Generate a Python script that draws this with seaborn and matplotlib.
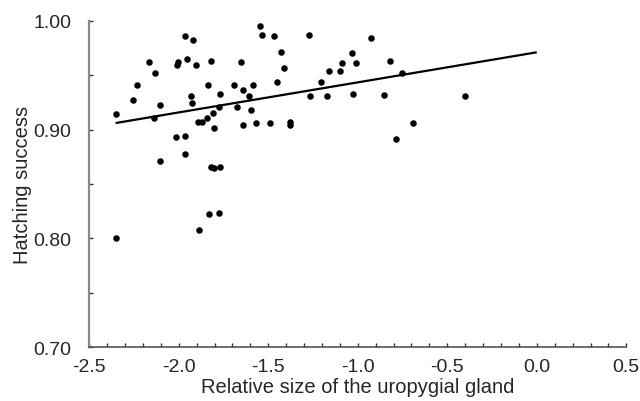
#!/usr/bin/env python3
"""
Hatching success vs relative uropygial gland size
"""

import numpy as np
import pandas as pd
import matplotlib
matplotlib.use("Agg")
import matplotlib.pyplot as plt
from matplotlib.ticker import MultipleLocator, FormatStrFormatter
import seaborn as sns

# values
gland_size = [
    -2.353, -2.353, -2.254, -2.234, -2.165, -2.135, -2.136, -2.105, -2.105, -2.016,
    -2.008, -2.003, -1.964, -1.964, -1.964, -1.953, -1.933, -1.928, -1.918, -1.904,
    -1.890, -1.872, -1.840, -1.834, -1.822, -1.809, -1.806, -1.821, -1.801, -1.770,
    -1.770, -1.774, -1.692, -1.677, -1.653, -1.641, -1.639, -1.607, -1.594, -1.584,
    -1.567, -1.544, -1.534, -1.489, -1.469, -1.449, -1.431, -1.414, -1.381, -1.380,
    -1.271, -1.267, -1.203, -1.174, -1.163, -1.099, -1.090, -1.035, -1.010, -1.025,
    -0.928, -0.852, -0.819, -0.755, -0.788, -0.693, -0.399, -1.888, -1.830, -1.774,
]
hatching = [
    0.914, 0.800, 0.927, 0.941, 0.962, 0.952, 0.911, 0.923, 0.871, 0.893,
    0.959, 0.962, 0.986, 0.894, 0.878, 0.965, 0.931, 0.924, 0.982, 0.959,
    0.907, 0.907, 0.911, 0.941, 0.963, 0.915, 0.901, 0.866, 0.865, 0.866,
    0.933, 0.921, 0.941, 0.921, 0.962, 0.904, 0.936, 0.931, 0.918, 0.941,
    0.906, 0.995, 0.987, 0.906, 0.986, 0.944, 0.971, 0.957, 0.907, 0.904,
    0.987, 0.931, 0.944, 0.931, 0.954, 0.954, 0.961, 0.970, 0.961, 0.933,
    0.984, 0.932, 0.963, 0.952, 0.891, 0.906, 0.931, 0.808, 0.822, 0.823,
]

# fitted line as drawn in the figure
fit_x = [-2.353, 0.0]
fit_y = [0.906, 0.971]

x_ticks = [-2.5, -2.0, -1.5, -1.0, -0.5, 0.0, 0.5]
y_ticks = [0.70, 0.80, 0.90, 1.00]


def main():
    sns.set_style("ticks")
    plt.rcParams['font.family'] = ['Liberation Sans', 'DejaVu Sans']

    df = pd.DataFrame({"gland": gland_size, "success": hatching})

    fig = plt.figure(figsize=(6.4, 4.02), dpi=100)
    ax = fig.add_axes([0.1395, 0.1336, 0.8391, 0.8124])

    sns.scatterplot(data=df, x="gland", y="success", ax=ax,
                    color="black", s=22, linewidth=0, legend=False)
    ax.plot(fit_x, fit_y, color="black", lw=1.6, solid_capstyle="butt")

    ax.set_xlim(-2.5, 0.5)
    ax.set_ylim(0.70, 1.00)
    ax.set_xticks(x_ticks)
    ax.set_yticks(y_ticks)
    ax.xaxis.set_minor_locator(MultipleLocator(0.1))
    ax.yaxis.set_minor_locator(MultipleLocator(0.05))
    ax.xaxis.set_major_formatter(FormatStrFormatter('%.1f'))
    ax.yaxis.set_major_formatter(FormatStrFormatter('%.2f'))

    ax.tick_params(which="both", direction="in", length=3, width=1,
                   color="#333333", labelsize=14)
    ax.tick_params(axis="x", pad=8)
    ax.tick_params(axis="y", pad=13)

    for side in ["top", "right"]:
        ax.spines[side].set_visible(False)
    ax.spines["left"].set_color("#888888")
    ax.spines["left"].set_linewidth(1.6)
    ax.spines["bottom"].set_color("#555555")
    ax.spines["bottom"].set_linewidth(1.2)

    ax.set_xlabel("Relative size of the uropygial gland", fontsize=14.5, labelpad=1)
    ax.set_ylabel("Hatching success", fontsize=14.5, labelpad=1)

    fig.savefig("out.png", dpi=100)
    plt.close(fig)


if __name__ == "__main__":
    main()
